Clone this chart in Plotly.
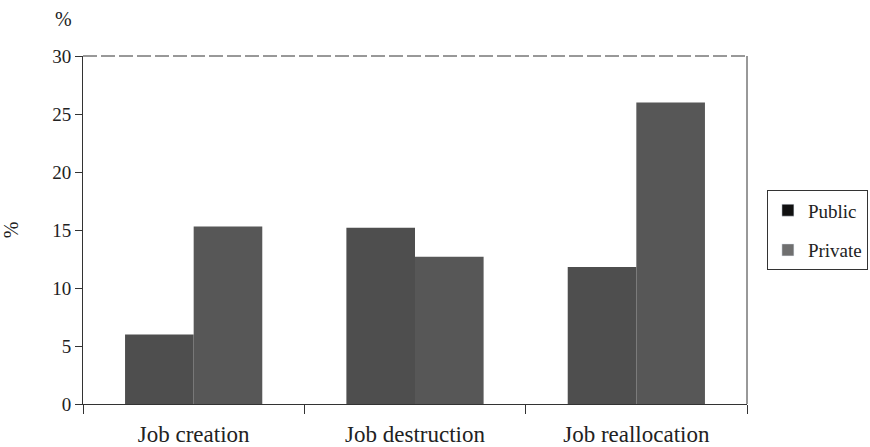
import plotly.graph_objects as go

categories = ["Job creation", "Job destruction", "Job reallocation"]
public_vals = [6.0, 15.2, 11.8]
private_vals = [15.3, 12.7, 26.0]
y_ticks = [0, 5, 10, 15, 20, 25, 30]

serif = "Liberation Serif"
ink = "#222"

fig = go.Figure()
fig.add_trace(go.Bar(x=categories, y=public_vals, name="Public",
                     offsetgroup="pub",
                     marker=dict(color="#4e4e4e", line=dict(width=0)),
                     showlegend=False))
fig.add_trace(go.Bar(x=categories, y=private_vals, name="Private",
                     offsetgroup="priv",
                     marker=dict(color="#575757", line=dict(width=0)),
                     showlegend=False))
# legend swatches
fig.add_trace(go.Bar(x=[categories[0]], y=[None], name="Public",
                     offsetgroup="pub",
                     marker=dict(color="#111111"), legendgroup="a"))
fig.add_trace(go.Bar(x=[categories[0]], y=[None], name="Private",
                     offsetgroup="priv",
                     marker=dict(color="#6f6f6f"), legendgroup="b"))

fig.update_layout(
    width=870, height=447,
    margin=dict(l=83, r=123, t=56, b=43, autoexpand=False),
    paper_bgcolor="white", plot_bgcolor="white",
    barmode="group", bargap=0.38, bargroupgap=0,
    font=dict(family=serif, size=19, color=ink),
    showlegend=True,
    legend=dict(x=1.03, y=0.614, xanchor="left", yanchor="top",
                bordercolor="#333", borderwidth=1, bgcolor="white",
                font=dict(family=serif, size=19, color=ink),
                tracegroupgap=12, traceorder="grouped"),
    xaxis=dict(type="category", tickson="boundaries", ticks="outside",
               ticklen=9, tickcolor="#333", showline=True, linecolor="#333",
               linewidth=1, showgrid=False, ticklabelstandoff=9,
               automargin=False,
               tickfont=dict(family=serif, size=23, color=ink)),
    yaxis=dict(range=[0, 30], tickvals=y_ticks, ticks="outside", ticklen=7,
               tickcolor="#333", showline=True, linecolor="#333", linewidth=1,
               showgrid=False, zeroline=False, automargin=False,
               tickfont=dict(family=serif, size=19, color=ink),
               title=dict(text="%", standoff=38,
                          font=dict(family=serif, size=20, color=ink))),
    shapes=[
        dict(type="line", xref="paper", yref="paper", x0=0, x1=1, y0=1, y1=1,
             line=dict(color="#333", width=1, dash="14px,4px")),
        dict(type="line", xref="paper", yref="paper", x0=1, x1=1, y0=0, y1=1,
             line=dict(color="#333", width=1)),
    ],
    annotations=[
        dict(text="%", xref="paper", yref="paper", x=-0.03, y=1.105,
             xanchor="center", yanchor="middle", showarrow=False,
             font=dict(family=serif, size=20, color=ink)),
    ],
)

fig.write_html("out.html")
